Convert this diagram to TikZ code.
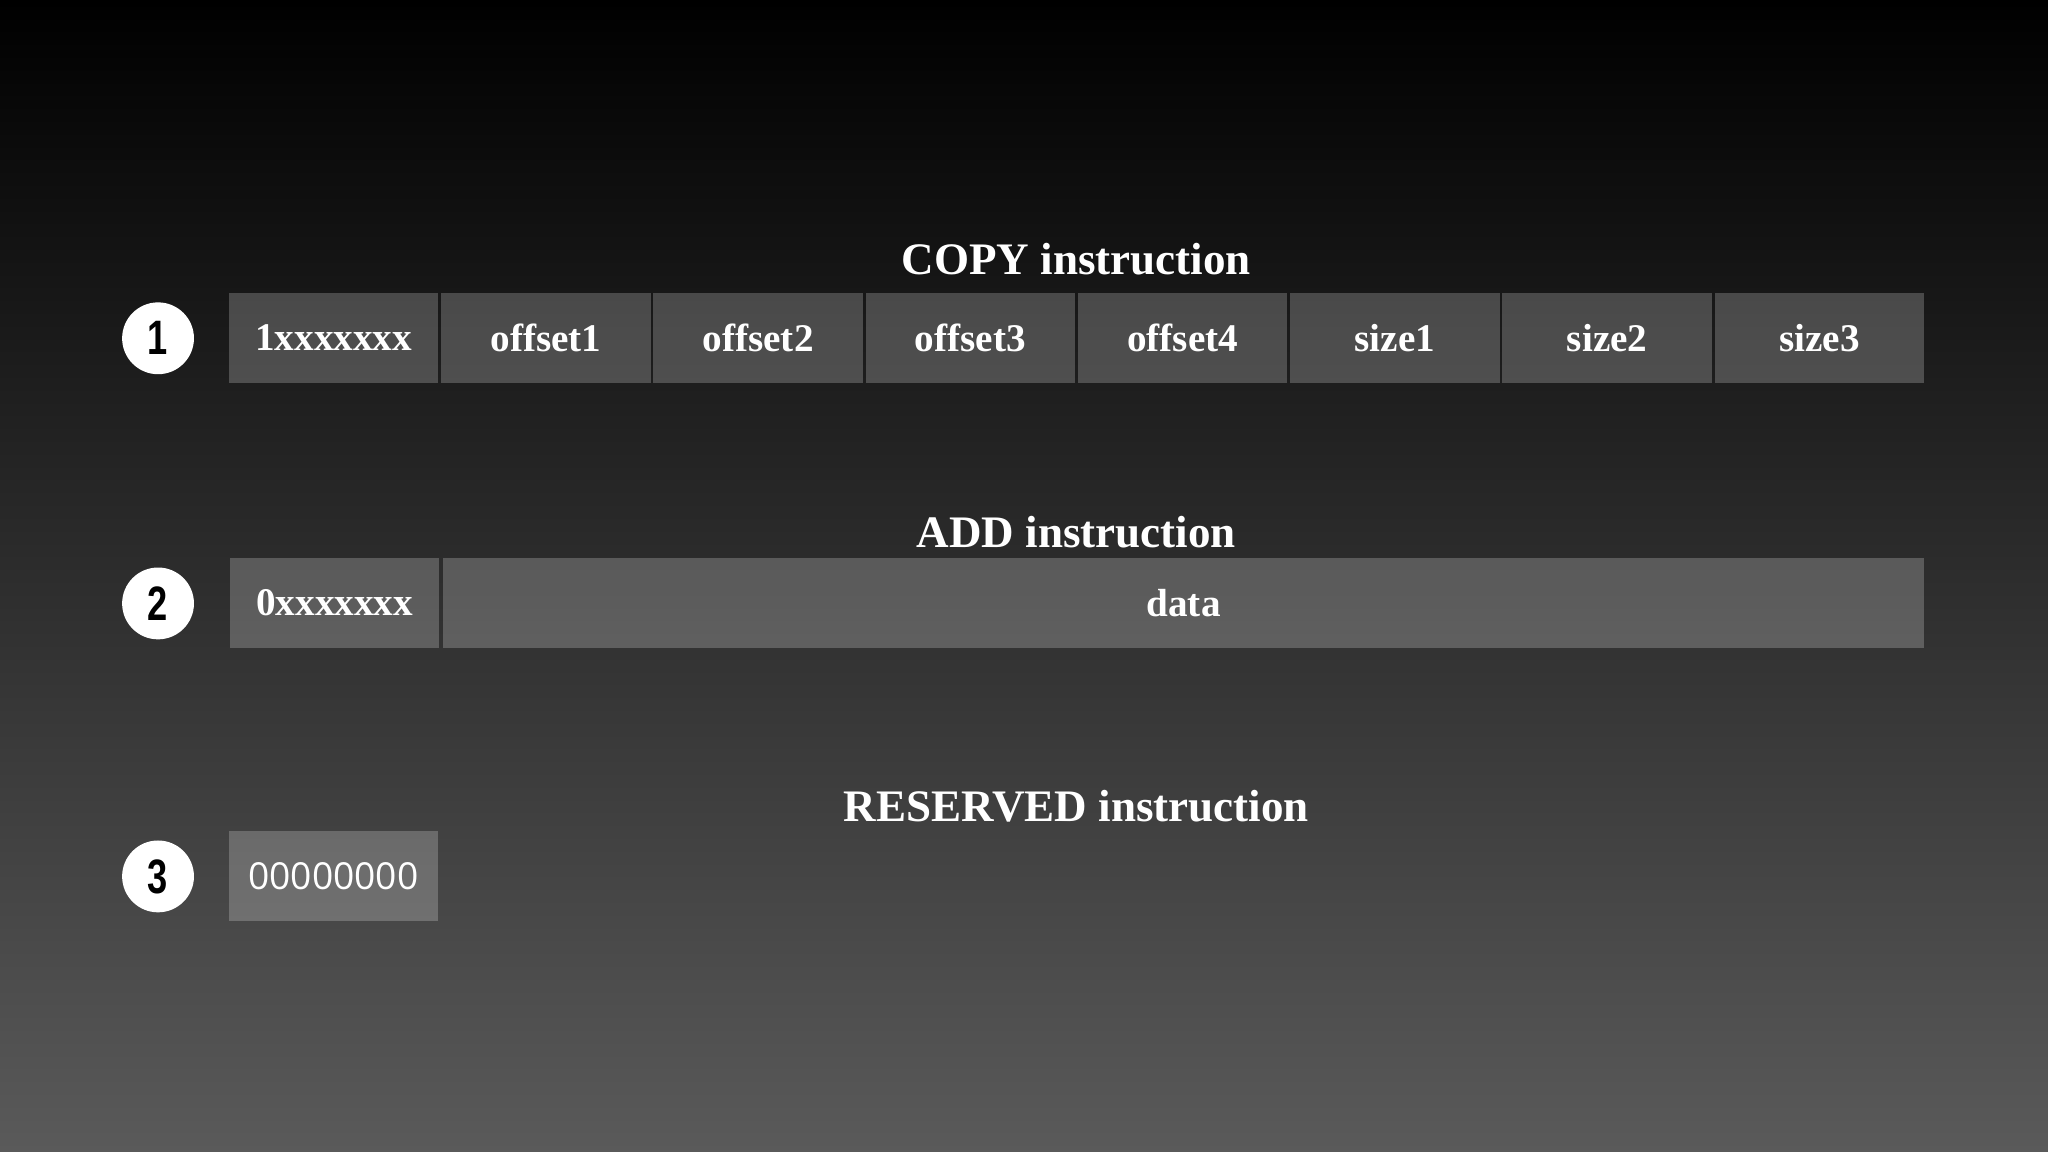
\documentclass[tikz,border=0pt]{standalone}
\usepackage{fontspec}
\usepackage{graphicx}
\setmainfont{Liberation Serif}
\newfontfamily\zerofont{Open Sans}
\newfontfamily\numfont{Liberation Sans}
\definecolor{bgbottom}{RGB}{90,90,90}
\tikzset{
  cellbox/.style={fill=white, fill opacity=0.22, text opacity=1, text=white,
    minimum height=69pt, inner sep=0pt, anchor=north west,
    font=\bfseries\fontsize{30}{36}\selectfont},
  titlelabel/.style={text=white, anchor=base, inner sep=0pt,
    font=\bfseries\fontsize{34.5}{42}\selectfont},
  numcircle/.style={circle, fill=white, minimum size=55pt, inner sep=0pt,
    text=black, font=\numfont\bfseries\fontsize{37}{40}\selectfont}
}
\begin{document}
\begin{tikzpicture}[x=1pt,y=-1pt]
\shade[top color=black, bottom color=bgbottom] (0,0) rectangle (1568,882);
\useasboundingbox (0,0) rectangle (1568,882);

% Titles
\node[titlelabel] (t1) at (824,210) {COPY instruction};
\node[titlelabel] (t2) at (824,419) {ADD instruction};
\node[titlelabel] (t3) at (824,629) {RESERVED instruction};

% Number circles
\node[numcircle] (n1) at (121,259) {\scalebox{0.75}[1]{1}};
\node[numcircle] (n2) at (121,462) {\scalebox{0.75}[1]{2}};
\node[numcircle] (n3) at (121,671) {\scalebox{0.75}[1]{3}};

% Row 1: COPY
\node[cellbox, minimum width=160.5pt] (c1a) at (175.0,224) {1xxxxxxx};
\node[cellbox, minimum width=160.5pt] (c1b) at (337.5,224) {offset1};
\node[cellbox, minimum width=160.5pt] (c1c) at (500.0,224) {offset2};
\node[cellbox, minimum width=160.5pt] (c1d) at (662.5,224) {offset3};
\node[cellbox, minimum width=160.5pt] (c1e) at (825.0,224) {offset4};
\node[cellbox, minimum width=160.5pt] (c1f) at (987.5,224) {size1};
\node[cellbox, minimum width=160.5pt] (c1g) at (1150.0,224) {size2};
\node[cellbox, minimum width=160.5pt] (c1h) at (1312.5,224) {size3};

% Row 2: ADD
\node[cellbox, minimum width=160pt] (c2a) at (176,427) {0xxxxxxx};
\node[cellbox, minimum width=1134pt] (c2b) at (339,427) {data};

% Row 3: RESERVED
\node[cellbox, minimum width=160pt, font=\zerofont\fontsize{28.5}{34}\selectfont] (c3a) at (175,636) {00000000};
\end{tikzpicture}
\end{document}
